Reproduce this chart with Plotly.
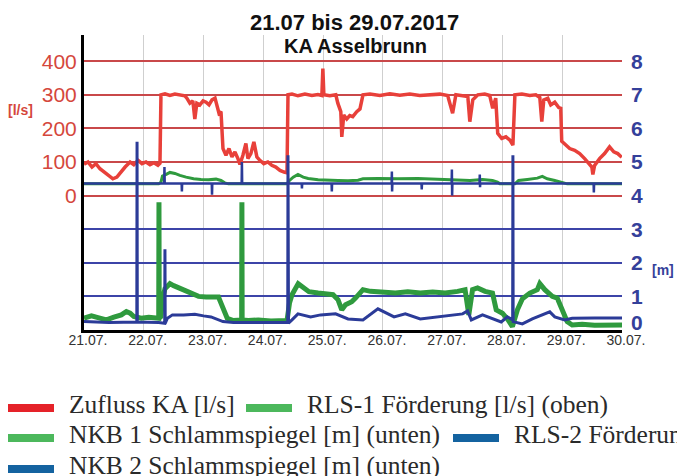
import pandas as pd
import plotly.graph_objects as go

# ---------------- data (hours since 21.07.2017 00:00) ----------------
START = pd.Timestamp("2017-07-21")

zufluss_h = [0, 1.6, 3.2, 4.8, 6.4, 8, 9.6, 11.6, 13.2, 14.8, 16.5, 18.5, 20, 21.7, 23.3, 24.9, 26.5, 28.1, 29.7, 30.5,
             30.9, 32.5, 34.5, 36.5, 38.5, 40.5, 41.3, 42.5, 43.7, 44.5, 45.3, 46.5, 47.8, 49, 50.2, 51.4, 52.6, 53.4,
             54.2, 55, 55.8, 57, 58.2, 59.4, 60.6, 61.8, 62.6, 63.8, 65, 65.8, 67, 68.2, 69.4, 70.6, 72.2, 73.8, 75.4,
             77, 78.7, 80.3, 81.5, 81.9, 83.5, 85.9, 88.7, 91.5, 93.9, 95.5, 95.9, 96.3, 98.7, 101.1, 101.9, 103.1,
             103.5, 104.3, 105.5, 106.7, 107.9, 109.5, 110.8, 112, 114.8, 118.8, 122.8, 126.8, 130.8, 134.8, 138.8,
             142.9, 146, 148, 149.3, 152, 154.1, 154.9, 156.1, 158.1, 160.9, 162.9, 164.1, 165.3, 166.1, 167.7,
             169.4, 171, 172.2, 173, 175.8, 179, 181.4, 183, 183.8, 184.6, 186.2, 187.4, 189, 190.6, 191.4, 191.8,
             193.4, 195, 197, 199, 201, 202.7, 203.9, 204.3, 205, 207, 209, 211, 212.7, 214.3, 215.9]
zufluss_v = [93, 100, 85, 95, 80, 70, 60, 50, 55, 70, 85, 100, 92, 105, 95, 100, 92, 98, 90, 96,
             300, 303, 298, 302, 300, 297, 290, 275, 282, 228, 275, 270, 282, 278, 270, 285, 290, 262,
             245, 250, 140, 120, 140, 115, 130, 110, 93, 120, 155, 110, 125, 160, 115, 105, 95, 100, 90,
             85, 75, 70, 68, 300, 302, 297, 302, 298, 301, 298, 378, 300, 297, 300, 275, 250,
             175, 240, 228, 238, 235, 250, 258, 300, 302, 298, 303, 299, 302, 298, 300,
             302, 298, 245, 300, 298, 295, 220, 285, 300, 302, 298, 260, 290, 185, 170,
             175, 165, 150, 300, 302, 298, 300, 292, 220, 285, 290, 270, 278, 262, 260, 162,
             150, 140, 135, 125, 110, 95, 85, 63, 90, 110, 125, 145, 130, 125, 114]

rls1_h = [0, 30, 30.9, 31.5, 33, 34.5, 36.5, 38.5, 41, 44, 47, 50, 53, 55, 56.5, 58, 81.5, 82.5, 84, 85.9, 88, 90,
          94, 98, 102, 106, 110, 112, 118, 126, 134, 142, 150, 155, 160, 164, 166, 167, 173, 174.5, 178, 182,
          184, 186, 189, 192, 194, 216]
rls1_v = [35, 35, 40, 58, 63, 69, 66, 60, 55, 50, 48, 47, 49, 45, 38, 35, 35, 45, 55, 63, 55, 51,
          47, 45, 45, 44, 46, 50, 51, 50, 51, 49, 47, 45, 48, 45, 40, 35, 35, 45, 48, 52,
          57, 50, 45, 40, 35, 35]

nkb1_h = [0, 3, 6, 9, 12, 15, 17, 18.5, 20, 23, 26, 29, 30, 30.1, 30.2, 30.9, 31.5, 32.5, 34.5, 36, 38.5, 41,
          43.5, 46, 49, 52, 54, 55, 56, 57.5, 60, 63.3, 63.4, 63.5, 66, 70, 75, 80, 81.5, 82.5, 83.5, 86, 88,
          90.3, 94, 97, 100, 102, 103.5, 105, 107.5, 109, 112, 115, 120, 125, 130, 135, 140, 145, 150, 153,
          154.5, 156, 158, 161, 164, 165.5, 168, 170, 172, 174, 176, 179, 182, 183, 185, 188, 190, 192, 194,
          196, 200, 205, 210, 216]
nkb1_v = [0.35, 0.42, 0.36, 0.3, 0.38, 0.45, 0.55, 0.5, 0.4, 0.35, 0.38, 0.33, 0.35, 3.8, 0.35, 0.4, 0.9, 1.23,
          1.38, 1.32, 1.23, 1.15, 1.05, 1.0, 0.98, 1.0, 0.98, 0.8, 0.63, 0.35, 0.28, 0.3, 3.8, 0.3, 0.28, 0.3,
          0.27, 0.3, 0.28, 0.8, 1.05, 1.38, 1.25, 1.14, 1.1, 1.08, 1.05, 0.9, 0.6, 0.75, 0.84, 0.95, 1.2, 1.15,
          1.12, 1.1, 1.14, 1.1, 1.13, 1.1, 1.15, 1.2, 0.45, 1.2, 1.25, 1.15, 1.1, 0.6, 0.5, 0.33, 0.1, 0.6,
          0.93, 1.1, 1.2, 1.38, 1.2, 1.0, 0.95, 0.55, 0.25, 0.15, 0.17, 0.14, 0.16, 0.15]

rls2_h = [0, 32.2, 32.3, 32.4, 39.2, 39.3, 39.4, 51.3, 51.4, 51.5, 63.3, 63.4, 63.5, 87.4, 87.5, 87.6, 99.4, 99.5,
          99.6, 123.5, 123.6, 123.7, 123.8, 135.5, 135.6, 135.7, 147.6, 147.7, 147.8, 147.9, 158.8, 158.9, 159,
          159.1, 204.6, 204.7, 204.8, 216]
rls2_v = [36, 36, 85, 36, 36, 12, 36, 36, 3, 36, 36, 100, 36, 36, 21, 36, 36, 12,
          36, 36, 72, 12, 36, 36, 18, 36, 36, 78, 0, 36, 36, 63, 25,
          36, 36, 9, 36, 36]

nkb2_h = [0, 10, 21.2, 21.3, 21.4, 30, 32.4, 32.5, 32.6, 33.5, 35.5, 40, 44.5, 48, 51, 55.8, 60, 70, 81.8, 81.9,
          82.1, 83.5, 85.9, 91, 95, 101, 106, 112, 118, 124.5, 129, 135, 142, 152, 154, 155.5, 160, 167.5, 170,
          172.1, 172.2, 172.3, 176, 180, 187, 189, 193, 196, 205, 216]
nkb2_v = [0.25, 0.22, 0.24, 5.6, 0.24, 0.22, 0.2, 2.4, 0.2, 0.35, 0.45, 0.45, 0.47, 0.42, 0.39, 0.25, 0.22, 0.22,
          0.22, 5.2, 0.2, 0.3, 0.48, 0.39, 0.45, 0.48, 0.33, 0.3, 0.63, 0.39, 0.48, 0.33, 0.4, 0.48, 0.57, 0.3,
          0.45, 0.24, 0.39, 0.3, 5.2, 0.25, 0.18, 0.33, 0.54, 0.39, 0.3, 0.35, 0.36, 0.36]

day_ticks = pd.date_range("2017-07-21", "2017-07-30", freq="D")
left_ticks = [0, 100, 200, 300, 400]
right_ticks = [1, 2, 3, 4, 5, 6, 7, 8]
right_zero_label = "0"
blue_grid = [1, 2, 3]

legend_items = ["Zufluss KA [l/s]", "RLS-1 Förderung [l/s] (oben)", "NKB 1 Schlammspiegel [m] (unten)",
                "RLS-2 Förderung [l/s] (oben)", "NKB 2 Schlammspiegel [m] (unten)"]


def t(hours):
    return START + pd.to_timedelta(hours, unit="h")


RED = "#e8403a"
GREEN = "#2f9a3e"
BLUE = "#2b3b98"
SANS = "Liberation Sans, Arial, sans-serif"
RIGHT_COL = "#34409a"

fig = go.Figure()
fig.add_trace(go.Scatter(x=t(zufluss_h), y=zufluss_v, mode="lines", line=dict(color=RED, width=3.5),
                         yaxis="y", showlegend=False))
fig.add_trace(go.Scatter(x=t(rls1_h), y=rls1_v, mode="lines", line=dict(color=GREEN, width=3),
                         yaxis="y", showlegend=False))
fig.add_trace(go.Scatter(x=t(rls2_h), y=rls2_v, mode="lines", line=dict(color=BLUE, width=2.5),
                         yaxis="y", showlegend=False))
fig.add_trace(go.Scatter(x=t(nkb1_h), y=nkb1_v, mode="lines", line=dict(color=GREEN, width=5),
                         yaxis="y2", showlegend=False))
fig.add_trace(go.Scatter(x=t(nkb2_h), y=nkb2_v, mode="lines", line=dict(color=BLUE, width=3),
                         yaxis="y2", showlegend=False))

W, H = 677, 476
L, R, T, B = 84, 55, 35, 146
PW, PH = W - L - R, H - T - B
M_MAX = 8.78


def px(x):
    return (x - L) / PW


def py(y):
    return (H - B - y) / PH


fig.update_layout(
    width=W, height=H,
    margin=dict(l=L, r=R, t=T, b=B),
    paper_bgcolor="white", plot_bgcolor="white",
    font=dict(family=SANS),
    xaxis=dict(range=[day_ticks[0], day_ticks[-1]], tickvals=day_ticks, tickformat="%d.%m.",
               showgrid=True, gridcolor="#cfcfcf", gridwidth=1, showline=True, linecolor="black",
               linewidth=3, ticks="", tickfont=dict(size=14, color="#333333"), ticklabelshift=4,
               ticklabelstandoff=-5, zeroline=False),
    yaxis=dict(range=[-400, -400 + M_MAX * 100], tickvals=left_ticks, showgrid=True, gridcolor="#c9484a",
               gridwidth=1.5, showline=True, linecolor="black", linewidth=3, ticks="",
               tickfont=dict(size=21, color="#d5473c"), zeroline=False),
    yaxis2=dict(range=[0, M_MAX], tickvals=right_ticks, overlaying="y", side="right", showgrid=False,
                showline=False, ticks="", tickfont=dict(size=21, color=RIGHT_COL, weight="bold"),
                ticklabelstandoff=8, zeroline=False),
    yaxis3=dict(range=[0, M_MAX], tickvals=blue_grid, overlaying="y", side="right", showgrid=True,
                gridcolor="#3c44a8", gridwidth=1.5, showticklabels=False, showline=False, ticks="",
                zeroline=False),
)
# dummy trace to activate yaxis3 (no visible points)
fig.add_trace(go.Scatter(x=[day_ticks[0]], y=[None], yaxis="y3", showlegend=False, hoverinfo="skip"))

ann = []
ann.append(dict(text="<b>21.07 bis 29.07.2017</b>", x=px(354), y=py(22), xref="paper", yref="paper",
                showarrow=False, font=dict(size=22, color="#111111"),
                xanchor="center", yanchor="middle"))
ann.append(dict(text="<b>KA Asselbrunn</b>", x=px(355), y=py(46), xref="paper", yref="paper",
                showarrow=False, font=dict(size=20, color="#111111"),
                xanchor="center", yanchor="middle"))
ann.append(dict(text="<b>[l/s]</b>", x=px(20), y=py(110), xref="paper", yref="paper", showarrow=False,
                font=dict(size=14, color="#d5473c"), xanchor="center", yanchor="middle"))
ann.append(dict(text="<b>[m]</b>", x=px(663), y=py(270), xref="paper", yref="paper", showarrow=False,
                font=dict(size=14, color=RIGHT_COL), xanchor="center", yanchor="middle"))
# the right-hand "0" label sits slightly raised above the date labels
ann.append(dict(text="<b>" + right_zero_label + "</b>", x=px(629), y=py(322), xref="paper", yref="paper",
                showarrow=False, font=dict(size=21, color=RIGHT_COL), xanchor="left", yanchor="middle"))

legend_pos = [(8, 67, 404), (246, 305, 404), (8, 67, 434), (453, 512, 434), (8, 67, 465)]
legend_cols = ["#e52229", "#4cb85c", "#4cb85c", "#1463a0", "#1463a0"]
shapes = []
for (sx, tx, cy), col, label in zip(legend_pos, legend_cols, legend_items):
    shapes.append(dict(type="rect", xref="paper", yref="paper", x0=px(sx), x1=px(sx + 46),
                       y0=py(cy + 8), y1=py(cy), fillcolor=col, line=dict(width=0)))
    ann.append(dict(text=label, x=px(tx), y=py(cy), xref="paper", yref="paper", showarrow=False,
                    font=dict(size=25.5, color="#2a2a2a", family="Liberation Serif, Times New Roman, serif"),
                    xanchor="left", yanchor="middle"))

fig.update_layout(annotations=ann, shapes=shapes)
fig.write_html("out.html", config={"displayModeBar": False},
               post_script="document.body.style.margin='0px';document.body.style.padding='0px';")
